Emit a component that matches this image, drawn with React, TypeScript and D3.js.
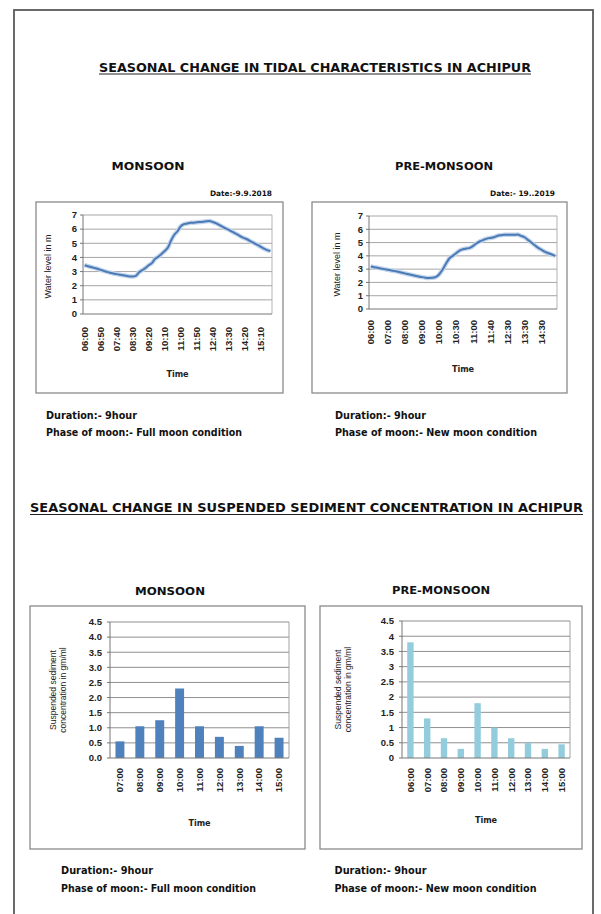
import * as d3 from 'd3';
import * as React from 'react';

const W = 601;
const H = 914;
const FONT = "'Liberation Sans Narrow', 'DejaVu Sans Condensed', 'Liberation Sans', Arial, sans-serif";
const TICK_FONT = "'Liberation Sans', Arial, sans-serif";

// water level (m), one reading per category, labels shown every 5th category
const monsoonLevels = [
  3.45, 3.38, 3.32, 3.26, 3.2, 3.12, 3.05, 2.98, 2.92, 2.86,
  2.82, 2.78, 2.74, 2.7, 2.66, 2.65, 2.7, 2.95, 3.1, 3.25,
  3.45, 3.6, 3.9, 4.05, 4.25, 4.45, 4.7, 5.2, 5.6, 5.85,
  6.2, 6.35, 6.4, 6.45, 6.46, 6.48, 6.5, 6.52, 6.55, 6.57,
  6.5, 6.42, 6.3, 6.18, 6.05, 5.95, 5.83, 5.7, 5.58, 5.45,
  5.35, 5.25, 5.12, 5.0, 4.88, 4.75, 4.62, 4.52, 4.45,
];
const monsoonTimeLabels = ['06:00', '06:50', '07:40', '08:30', '09:20', '10:10', '11:00', '11:50', '12:40', '13:30', '14:20', '15:10'];

const preMonsoonLevels = [
  3.2, 3.15, 3.1, 3.05, 3.0, 2.95, 2.9, 2.85, 2.8, 2.74,
  2.68, 2.62, 2.56, 2.5, 2.45, 2.4, 2.36, 2.34, 2.35, 2.4,
  2.6, 2.95, 3.4, 3.8, 4.0, 4.2, 4.4, 4.5, 4.55, 4.6,
  4.75, 4.95, 5.1, 5.2, 5.3, 5.35, 5.4, 5.5, 5.55, 5.58,
  5.58, 5.58, 5.58, 5.6, 5.5, 5.4, 5.2, 5.0, 4.8, 4.6,
  4.45, 4.3, 4.2, 4.1, 4.0,
];
const preMonsoonTimeLabels = ['06:00', '07:00', '08:00', '09:00', '10:00', '10:30', '11:00', '11:40', '12:30', '13:30', '14:30'];

const labelEvery = 5;
const levelTicks = [0, 1, 2, 3, 4, 5, 6, 7];

// suspended sediment concentration (gm/ml)
const monsoonSscTimes = ['07:00', '08:00', '09:00', '10:00', '11:00', '12:00', '13:00', '14:00', '15:00'];
const monsoonSsc = [0.55, 1.05, 1.25, 2.3, 1.05, 0.7, 0.4, 1.05, 0.67];
const preMonsoonSscTimes = ['06:00', '07:00', '08:00', '09:00', '10:00', '11:00', '12:00', '13:00', '14:00', '15:00'];
const preMonsoonSsc = [3.8, 1.3, 0.65, 0.3, 1.8, 1.0, 0.65, 0.5, 0.3, 0.45];
const sscTicks = [0, 0.5, 1, 1.5, 2, 2.5, 3, 3.5, 4, 4.5];

type Rect = { x0: number; x1: number; y0: number; y1: number };

const Label = ({ x, y, text, size, len, anchor = 'start', weight = 'bold' }: any) => (
  <text
    x={x}
    y={y}
    fontFamily={FONT}
    fontSize={size}
    fontWeight={weight}
    textAnchor={anchor}
    fill="#111"
    textLength={len}
    lengthAdjust="spacingAndGlyphs"
  >
    {text}
  </text>
);

function LineChart(props: {
  box: Rect;
  plot: Rect;
  values: number[];
  labels: string[];
  yTitleX: number;
  tickTop: number;
  timeY: number;
}) {
  const { box, plot, values, labels, yTitleX, tickTop, timeY } = props;
  const x = d3
    .scaleBand<number>()
    .domain(d3.range(values.length))
    .range([plot.x0, plot.x1]);
  const cx = (i: number) => (x(i) as number) + x.bandwidth() / 2;
  const y = d3.scaleLinear().domain([0, 7]).range([plot.y1, plot.y0]);
  const line = d3
    .line<number>()
    .x((_, i) => cx(i))
    .y(d => y(d))
    .curve(d3.curveMonotoneX);
  const path = line(values) || '';

  return (
    <g>
      <rect x={box.x0} y={box.y0} width={box.x1 - box.x0} height={box.y1 - box.y0} fill="#fff" stroke="#8a8a8a" strokeWidth={1.3} />
      {levelTicks.slice(1).map(t => (
        <line key={t} x1={plot.x0} x2={plot.x1} y1={y(t)} y2={y(t)} stroke="#9c9c9c" strokeWidth={0.9} />
      ))}
      <line x1={plot.x1} x2={plot.x1} y1={plot.y0} y2={plot.y1} stroke="#aaa" strokeWidth={0.9} />
      <line x1={plot.x0} x2={plot.x0} y1={plot.y0} y2={plot.y1} stroke="#777" strokeWidth={1} />
      <line x1={plot.x0} x2={plot.x1} y1={plot.y1} y2={plot.y1} stroke="#777" strokeWidth={1} />
      {levelTicks.map(t => (
        <g key={t}>
          <line x1={plot.x0 - 3} x2={plot.x0} y1={y(t)} y2={y(t)} stroke="#777" />
          <text x={plot.x0 - 6} y={y(t)} dy="0.35em" textAnchor="end" fontFamily={TICK_FONT} fontSize={9.5} fontWeight="bold" fill="#222">
            {t}
          </text>
        </g>
      ))}
      <path d={path} fill="none" stroke="#c5d6ec" strokeWidth={4.5} strokeLinejoin="round" />
      <path d={path} fill="none" stroke="#4a7ab5" strokeWidth={2} strokeLinejoin="round" />
      {labels.map((lab, j) => (
        <text
          key={lab + j}
          transform={`translate(${cx(j * labelEvery)},${tickTop}) rotate(-90)`}
          dy="0.35em"
          textAnchor="end"
          fontFamily={TICK_FONT}
          fontSize={9.5}
          fontWeight="bold"
          fill="#222"
        >
          {lab}
        </text>
      ))}
      <text
        transform={`translate(${yTitleX},${(plot.y0 + plot.y1) / 2 + 2}) rotate(-90)`}
        dy="0.35em"
        textAnchor="middle"
        fontFamily={TICK_FONT}
        fontSize={9}
        fill="#222"
      >
        Water level in m
      </text>
      <text x={(plot.x0 + plot.x1) / 2} y={timeY} dy="0.35em" textAnchor="middle" fontFamily={FONT} fontSize={9} fontWeight="bold" fill="#222">
        Time
      </text>
    </g>
  );
}

function BarChart(props: {
  box: Rect;
  plot: Rect;
  values: number[];
  labels: string[];
  ticks: string[];
  color: string;
  barRatio: number;
  yTitleX: number;
  timeY: number;
}) {
  const { box, plot, values, labels, ticks, color, barRatio, yTitleX, timeY } = props;
  const x = d3.scaleBand<string>().domain(labels).range([plot.x0, plot.x1]);
  const y = d3.scaleLinear().domain([0, 4.5]).range([plot.y1, plot.y0]);
  const bw = x.bandwidth() * barRatio;
  const midY = (plot.y0 + plot.y1) / 2;

  return (
    <g>
      <rect x={box.x0} y={box.y0} width={box.x1 - box.x0} height={box.y1 - box.y0} fill="#fff" stroke="#8a8a8a" strokeWidth={1.3} />
      {sscTicks.slice(1).map(t => (
        <line key={t} x1={plot.x0} x2={plot.x1} y1={y(t)} y2={y(t)} stroke="#8f8f8f" strokeWidth={1} />
      ))}
      <line x1={plot.x1} x2={plot.x1} y1={plot.y0} y2={plot.y1} stroke="#999" strokeWidth={0.9} />
      {values.map((v, i) => (
        <rect
          key={i}
          x={(x(labels[i]) as number) + (x.bandwidth() - bw) / 2}
          y={y(v)}
          width={bw}
          height={y(0) - y(v)}
          fill={color}
        />
      ))}
      <line x1={plot.x0} x2={plot.x0} y1={plot.y0} y2={plot.y1} stroke="#777" strokeWidth={1} />
      <line x1={plot.x0} x2={plot.x1} y1={plot.y1} y2={plot.y1} stroke="#777" strokeWidth={1} />
      {sscTicks.map((t, i) => (
        <g key={t}>
          <line x1={plot.x0 - 3} x2={plot.x0} y1={y(t)} y2={y(t)} stroke="#777" />
          <text x={plot.x0 - 8} y={y(t)} dy="0.35em" textAnchor="end" fontFamily={TICK_FONT} fontSize={9.5} fontWeight="bold" fill="#222">
            {ticks[i]}
          </text>
        </g>
      ))}
      {labels.map(lab => (
        <text
          key={lab}
          transform={`translate(${(x(lab) as number) + x.bandwidth() / 2},${plot.y1 + 10}) rotate(-90)`}
          dy="0.35em"
          textAnchor="end"
          fontFamily={TICK_FONT}
          fontSize={9.5}
          fontWeight="bold"
          fill="#222"
        >
          {lab}
        </text>
      ))}
      <text transform={`translate(${yTitleX},${midY}) rotate(-90)`} dy="0.35em" textAnchor="middle" fontFamily={TICK_FONT} fontSize={8.5} fill="#222">
        Suspended sediment
      </text>
      <text transform={`translate(${yTitleX + 10},${midY}) rotate(-90)`} dy="0.35em" textAnchor="middle" fontFamily={TICK_FONT} fontSize={8.5} fill="#222">
        concentration in gm/ml
      </text>
      <text x={(plot.x0 + plot.x1) / 2} y={timeY} dy="0.35em" textAnchor="middle" fontFamily={FONT} fontSize={9} fontWeight="bold" fill="#222">
        Time
      </text>
    </g>
  );
}

export default function App() {
  const fmt1 = d3.format('.1f');
  const monsoonTicks = sscTicks.map(t => fmt1(t));
  const preTicks = sscTicks.map(t => String(t));

  return (
    <svg width={W} height={H} style={{ position: 'absolute', left: 0, top: 0, background: '#fff' }}>
      <rect x={14} y={10} width={579} height={930} fill="#fff" stroke="#5a5a5a" strokeWidth={1.8} />

      <Label x={99} y={71.5} text="SEASONAL CHANGE IN TIDAL CHARACTERISTICS IN ACHIPUR" size={12.5} len={432} />
      <line x1={99} x2={531} y1={74} y2={74} stroke="#222" strokeWidth={1} />

      <Label x={148} y={169.5} text="MONSOON" size={10} len={73} anchor="middle" />
      <Label x={444} y={170} text="PRE-MONSOON" size={10} len={98} anchor="middle" />
      <Label x={272} y={195.5} text="Date:-9.9.2018" size={7.5} len={62} anchor="end" />
      <Label x={555} y={195.5} text="Date:- 19..2019" size={7.5} len={65} anchor="end" />

      <LineChart
        box={{ x0: 36, x1: 283, y0: 202, y1: 393 }}
        plot={{ x0: 83, x1: 272, y0: 215, y1: 314 }}
        values={monsoonLevels}
        labels={monsoonTimeLabels}
        yTitleX={48}
        tickTop={327}
        timeY={374}
      />
      <LineChart
        box={{ x0: 312, x1: 567, y0: 202, y1: 393 }}
        plot={{ x0: 369, x1: 557, y0: 216, y1: 309 }}
        values={preMonsoonLevels}
        labels={preMonsoonTimeLabels}
        yTitleX={337}
        tickTop={320}
        timeY={369}
      />

      <Label x={46} y={419} text="Duration:- 9hour" size={10.5} len={91} />
      <Label x={46} y={435.5} text="Phase of moon:- Full moon condition" size={10.5} len={196} />
      <Label x={335} y={419} text="Duration:- 9hour" size={10.5} len={91} />
      <Label x={335} y={435.5} text="Phase of moon:- New moon condition" size={10.5} len={202} />

      <Label x={30} y={512} text="SEASONAL CHANGE IN SUSPENDED SEDIMENT CONCENTRATION IN ACHIPUR" size={13} len={553} />
      <line x1={30} x2={583} y1={514.5} y2={514.5} stroke="#222" strokeWidth={1} />

      <Label x={170} y={594.5} text="MONSOON" size={10} len={70} anchor="middle" />
      <Label x={441} y={593.5} text="PRE-MONSOON" size={10} len={98} anchor="middle" />

      <BarChart
        box={{ x0: 30, x1: 305, y0: 606, y1: 849 }}
        plot={{ x0: 110, x1: 289, y0: 622, y1: 758 }}
        values={monsoonSsc}
        labels={monsoonSscTimes}
        ticks={monsoonTicks}
        color="#4f81bd"
        barRatio={0.45}
        yTitleX={53}
        timeY={823}
      />
      <BarChart
        box={{ x0: 320, x1: 582, y0: 606, y1: 849 }}
        plot={{ x0: 402, x1: 570, y0: 621, y1: 758 }}
        values={preMonsoonSsc}
        labels={preMonsoonSscTimes}
        ticks={preTicks}
        color="#93cddd"
        barRatio={0.38}
        yTitleX={338}
        timeY={820}
      />

      <Label x={61} y={874} text="Duration:- 9hour" size={10.5} len={92} />
      <Label x={61} y={892} text="Phase of moon:- Full moon condition" size={10.5} len={195} />
      <Label x={334.5} y={874} text="Duration:- 9hour" size={10.5} len={92} />
      <Label x={334.5} y={892} text="Phase of moon:- New moon condition" size={10.5} len={202} />
    </svg>
  );
}
